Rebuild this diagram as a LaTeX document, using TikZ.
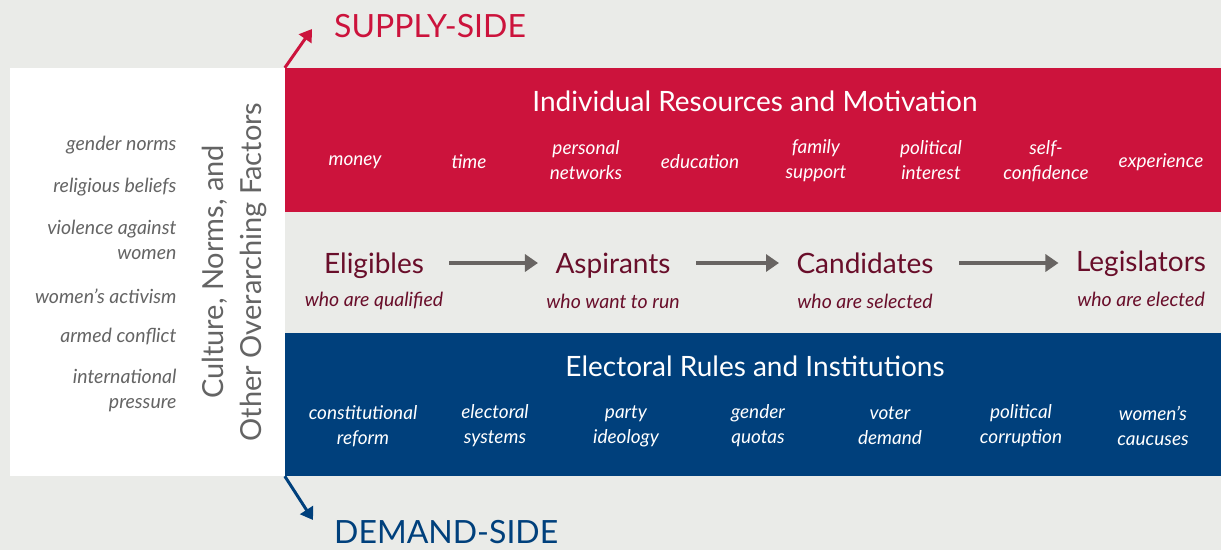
\documentclass[tikz,border=0pt]{standalone}
\usepackage{fontspec}
\setmainfont{Lato}
\usetikzlibrary{arrows.meta}

\definecolor{supred}{RGB}{204,19,60}
\definecolor{demblue}{RGB}{0,64,124}
\definecolor{bgcol}{RGB}{234,235,232}
\definecolor{maroon}{RGB}{105,14,42}
\definecolor{flowgray}{RGB}{104,100,98}
\definecolor{factgray}{RGB}{100,100,100}

\begin{document}
\begin{tikzpicture}[x = 1pt, y = -1pt,
        band/.style = {minimum width = 936pt, inner sep = 0pt},
        bandtitle/.style = {text = white, font = \fontsize{28}{32}\selectfont},
        item/.style = {text = white, align = center, font = \itshape\fontsize{19}{25}\selectfont},
        factor/.style = {text = factgray, align = right, anchor = east, font = \itshape\fontsize{19.5}{25}\selectfont},
        stage/.style = {text = maroon, text height = 26pt, text depth = 6pt, font = \fontsize{28}{32}\selectfont},
        stagesub/.style = {text = maroon, font = \itshape\fontsize{19.5}{22}\selectfont},
        flow/.style = {draw = flowgray, line width = 4pt, -{Triangle[length = 13pt, width = 17pt]},
            shorten < = 22pt, shorten > = 14pt},
        side/.style = {anchor = west, inner sep = 0pt, font = \fontsize{32}{36}\selectfont}]

        \fill[bgcol] (0,0) rectangle (1221,550);
        \useasboundingbox (0,0) rectangle (1221,550);

        % three bands
        \node[fill = white, minimum width = 275pt, minimum height = 408pt, inner sep = 0pt] (factbox) at (147.5,272) {};
        \node[band, fill = supred, minimum height = 144pt] (resband) at (753,140) {};
        \node[band, fill = demblue, minimum height = 143pt] (rulband) at (753,404.5) {};

        % supply side
        \node[side, text = supred] (supply) at (334,26) {SUPPLY-SIDE};
        \coordinate (suptip) at (312,29);
        \draw[supred, line width = 3pt, -{Triangle[length = 12pt, width = 15pt]}] (resband.north west) -- (suptip);

        \node[bandtitle] (restitle) at (755,101) {Individual Resources and Motivation};
        \node[item] (money) at (355,162) {money};
        \node[item] (time) at (469,162) {time};
        \node[item] (network) at (586,160) {personal\\networks};
        \node[item] (educ) at (700,162) {education};
        \node[item] (family) at (816,161) {family\\support};
        \node[item] (interest) at (931,160) {political\\interest};
        \node[item] (confid) at (1046,161) {self-\\confidence};
        \node[item] (exper) at (1161,162) {experience};

        % pipeline
        \node[stage] (elig) at (374,263) {Eligibles};
        \node[stagesub] (eligsub) at (374,301) {who are qualified};
        \node[stage] (asp) at (613,263) {Aspirants};
        \node[stagesub] (aspsub) at (613,301) {who want to run};
        \node[stage] (cand) at (865,263) {Candidates};
        \node[stagesub] (candsub) at (865,301) {who are selected};
        \node[stage] (legis) at (1141,261) {Legislators};
        \node[stagesub] (legissub) at (1141,299) {who are elected};

        \draw[flow] (elig.east) -- (asp.west);
        \draw[flow] (asp.east) -- (cand.west);
        \draw[flow] (cand.east) -- (cand.east -| legis.west);

        % demand side
        \node[bandtitle] (rultitle) at (755,366) {Electoral Rules and Institutions};
        \node[item] (constit) at (363,426) {constitutional\\reform};
        \node[item] (elsys) at (495,426) {electoral\\systems};
        \node[item] (party) at (626,426) {party\\ideology};
        \node[item] (quota) at (758,426) {gender\\quotas};
        \node[item] (voter) at (890,426) {voter\\demand};
        \node[item] (corrupt) at (1021,426) {political\\corruption};
        \node[item] (caucus) at (1153,426) {women’s\\caucuses};

        \node[side, text = demblue] (demand) at (334,532) {DEMAND-SIDE};
        \coordinate (demtip) at (313,520);
        \draw[demblue, line width = 3pt, -{Triangle[length = 12pt, width = 15pt]}] (rulband.south west) -- (demtip);

        % overarching factors
        \node[rotate = 90, align = center, text = factgray, font = \fontsize{29}{38}\selectfont] (culture) at (234,272)
            {Culture, Norms, and\\Other Overarching Factors};
        \node[factor] (norms) at (180,145) {gender norms};
        \node[factor] (relig) at (180,187) {religious beliefs};
        \node[factor] (violence) at (180,240) {violence against\\women};
        \node[factor] (activism) at (180,296) {women’s activism};
        \node[factor] (conflict) at (180,337) {armed conflict};
        \node[factor] (pressure) at (180,390) {international\\pressure};
\end{tikzpicture}
\end{document}
